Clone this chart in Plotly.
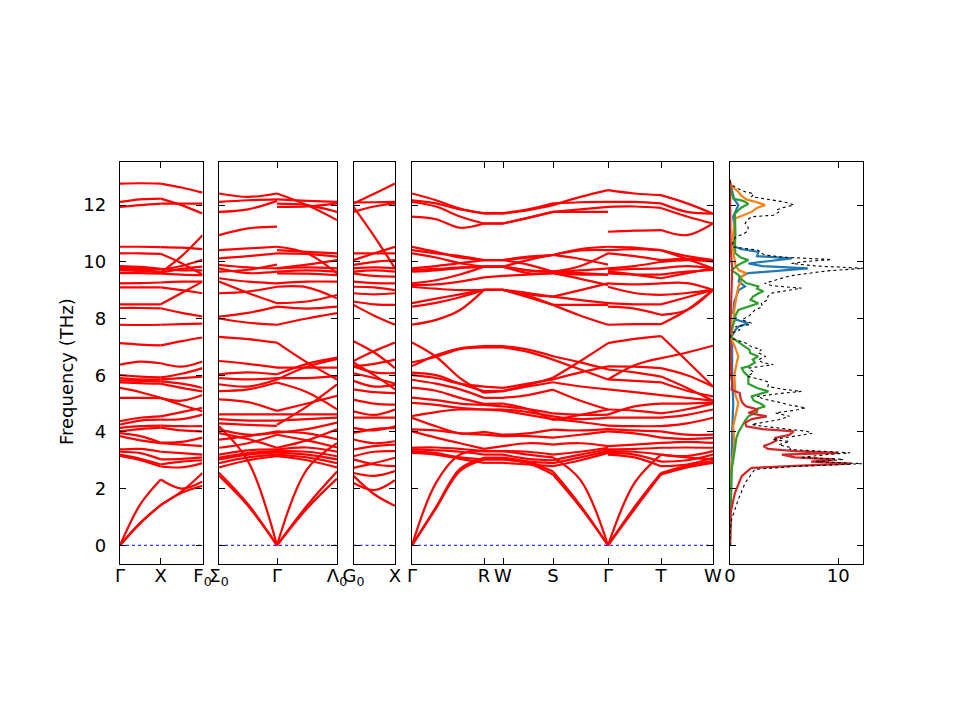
import plotly.graph_objects as go

# k-path sample positions (path length units) for each panel piece
k1 = [0.0, 0.205, 0.41, 0.62, 0.83]            # Γ - X - F0
k2a = [0.0, 0.29, 0.58]                         # Σ0 - Γ
k2b = [0.58, 0.88, 1.18]                        # Γ - Λ0
k3 = [0.0, 0.21, 0.42]                          # G0 - X
k4a = [0.0, 0.24, 0.48, 0.72, 0.91, 1.16, 1.41, 1.685, 1.96]   # Γ - R - W - S - Γ
k4b = [1.96, 2.225, 2.49, 2.75, 3.01]           # Γ - T - W

# indices of the high-symmetry points inside each k list
brk1 = [0, 2, 4]
brk2a = [0, 2]
brk2b = [0, 2]
brk3 = [0, 2]
brk4a = [0, 3, 4, 6, 8]
brk4b = [0, 2, 4]

# tick labels
ticks1 = ([0.0, 0.41, 0.83], ["Γ", "X", "F<sub>0</sub>"])
ticks2 = ([0.0, 0.58, 1.18], ["Σ<sub>0</sub>", "Γ", "Λ<sub>0</sub>"])
ticks3 = ([0.0, 0.42], ["G<sub>0</sub>", "X"])
ticks4 = ([0.0, 0.72, 0.91, 1.41, 1.96, 2.49, 3.01], ["Γ", "R", "W", "S", "Γ", "T", "W"])

# phonon frequencies (THz), one row per branch
bands_p1 = [
    [0.0, 0.78, 1.42, 1.90, 2.55],
    [0.0, 0.80, 1.42, 1.85, 2.10],
    [0.0, 1.45, 2.32, 2.00, 2.25],
    [3.15, 3.00, 2.78, 2.75, 2.90],
    [3.20, 3.05, 2.85, 2.95, 3.00],
    [3.30, 3.25, 3.03, 3.05, 3.10],
    [3.38, 3.40, 3.30, 3.25, 3.20],
    [3.85, 3.70, 3.60, 3.55, 3.50],
    [3.96, 3.85, 3.62, 3.65, 3.80],
    [4.02, 4.10, 4.15, 4.05, 4.02],
    [4.14, 4.20, 4.22, 4.20, 4.20],
    [4.26, 4.40, 4.43, 4.45, 4.61],
    [4.38, 4.50, 4.55, 4.70, 4.85],
    [5.20, 5.20, 5.19, 5.10, 5.30],
    [5.55, 5.40, 5.20, 4.95, 4.73],
    [5.75, 5.72, 5.70, 5.55, 5.43],
    [5.82, 5.80, 5.78, 5.70, 5.55],
    [5.90, 5.85, 5.85, 5.90, 5.95],
    [6.00, 5.95, 5.92, 6.05, 6.25],
    [6.37, 6.48, 6.42, 6.30, 6.48],
    [7.13, 7.08, 7.05, 7.20, 7.33],
    [7.78, 7.77, 7.78, 7.80, 7.82],
    [8.37, 8.37, 8.36, 8.20, 8.07],
    [8.50, 8.50, 8.50, 8.90, 9.30],
    [9.10, 9.10, 9.10, 9.00, 8.89],
    [9.24, 9.25, 9.27, 9.30, 9.30],
    [9.60, 9.60, 9.58, 9.55, 9.53],
    [9.70, 9.68, 9.62, 9.75, 9.83],
    [9.75, 9.75, 9.72, 9.85, 10.07],
    [9.82, 9.75, 9.62, 10.20, 10.94],
    [9.85, 9.82, 9.75, 9.70, 9.70],
    [10.30, 10.30, 10.28, 9.95, 9.55],
    [10.53, 10.53, 10.52, 10.50, 10.45],
    [11.94, 12.00, 12.05, 12.05, 12.05],
    [12.11, 12.20, 12.23, 12.00, 11.70],
    [12.76, 12.77, 12.76, 12.62, 12.44],
]

bands_p2a = [
    [2.45, 1.39, 0.0],
    [2.56, 1.45, 0.0],
    [4.20, 2.97, 0.0],
    [2.75, 3.00, 3.14],
    [2.90, 3.10, 3.20],
    [3.03, 3.20, 3.27],
    [3.09, 3.25, 3.32],
    [3.20, 3.35, 3.38],
    [3.44, 3.60, 3.90],
    [3.73, 3.85, 4.02],
    [3.96, 3.75, 3.44],
    [4.09, 3.90, 3.97],
    [4.30, 4.25, 4.21],
    [4.45, 4.40, 4.40],
    [4.62, 4.62, 4.62],
    [5.15, 5.05, 4.74],
    [5.44, 5.50, 5.74],
    [5.68, 5.60, 5.85],
    [5.90, 5.85, 5.90],
    [6.03, 6.10, 6.03],
    [6.50, 6.40, 6.27],
    [7.35, 7.27, 7.15],
    [8.00, 7.85, 7.78],
    [8.07, 8.20, 8.42],
    [8.89, 8.95, 9.12],
    [9.30, 8.90, 8.54],
    [9.42, 9.30, 9.24],
    [9.65, 9.72, 9.90],
    [9.77, 9.60, 9.65],
    [9.89, 9.80, 9.77],
    [10.12, 10.20, 10.30],
    [10.41, 10.47, 10.53],
    [10.94, 11.18, 11.24],
    [11.76, 11.85, 12.15],
    [12.11, 12.17, 12.20],
    [12.41, 12.29, 12.41],
]

bands_p2b = [
    [0.0, 1.30, 2.35],
    [0.0, 1.40, 2.60],
    [0.0, 2.68, 3.60],
    [3.14, 3.00, 2.75],
    [3.20, 3.10, 2.90],
    [3.27, 3.20, 3.03],
    [3.32, 3.30, 3.14],
    [3.38, 3.45, 3.30],
    [3.90, 3.70, 3.45],
    [4.02, 3.95, 3.74],
    [3.44, 3.70, 4.09],
    [3.97, 4.10, 4.33],
    [4.25, 4.90, 5.68],
    [4.40, 4.45, 4.50],
    [4.62, 4.62, 4.62],
    [4.74, 5.00, 5.27],
    [5.74, 5.40, 4.80],
    [5.85, 6.30, 6.57],
    [5.90, 5.90, 5.97],
    [6.03, 6.40, 6.62],
    [6.27, 6.27, 6.27],
    [7.15, 6.45, 5.85],
    [7.78, 8.00, 8.19],
    [8.42, 8.35, 8.42],
    [8.54, 8.60, 8.83],
    [9.12, 9.10, 8.71],
    [9.24, 9.30, 9.30],
    [9.59, 9.58, 9.53],
    [9.65, 9.70, 9.65],
    [9.77, 9.80, 9.77],
    [9.77, 9.90, 10.06],
    [10.30, 10.28, 10.18],
    [10.53, 10.30, 9.59],
    [10.41, 10.35, 10.30],
    [11.94, 11.95, 12.06],
    [12.05, 12.00, 11.76],
    [12.20, 12.15, 12.11],
    [12.41, 12.00, 11.47],
]

bands_p3 = [
    [2.20, 1.95, 2.30],
    [2.45, 1.80, 1.39],
    [2.55, 2.45, 2.62],
    [2.73, 2.90, 3.09],
    [3.03, 2.85, 2.79],
    [3.14, 3.30, 3.32],
    [3.38, 3.50, 3.55],
    [3.73, 3.60, 3.67],
    [3.96, 4.10, 4.14],
    [4.14, 4.05, 4.20],
    [4.50, 4.50, 4.50],
    [4.73, 4.60, 4.79],
    [5.14, 5.00, 4.96],
    [5.50, 5.40, 5.37],
    [5.80, 5.60, 5.66],
    [6.07, 5.90, 5.70],
    [6.31, 6.10, 6.07],
    [6.45, 6.00, 5.50],
    [6.31, 6.40, 6.55],
    [6.50, 6.85, 7.15],
    [7.20, 6.80, 6.25],
    [8.48, 8.10, 7.78],
    [8.60, 8.50, 8.48],
    [8.89, 8.85, 8.89],
    [9.12, 9.10, 9.00],
    [9.30, 9.25, 9.24],
    [9.59, 9.50, 9.48],
    [9.65, 9.70, 9.65],
    [9.77, 9.80, 9.77],
    [9.89, 10.00, 10.06],
    [10.06, 10.30, 10.53],
    [10.30, 10.30, 10.30],
    [11.94, 10.90, 9.77],
    [11.76, 11.95, 12.06],
    [12.10, 12.10, 12.11],
    [12.06, 12.40, 12.76],
]

bands_p4a = [
    [0.0, 1.30, 2.62, 3.03, 3.03, 2.90, 2.50, 1.34, 0.0],
    [0.0, 1.35, 2.70, 3.09, 3.09, 2.95, 2.60, 1.40, 0.0],
    [0.0, 2.20, 3.20, 3.32, 3.32, 3.20, 3.10, 2.30, 0.0],
    [3.26, 3.20, 3.05, 2.91, 2.91, 2.85, 2.79, 3.00, 3.26],
    [3.32, 3.25, 3.10, 3.03, 3.03, 2.95, 2.90, 3.10, 3.32],
    [3.38, 3.35, 3.30, 3.20, 3.20, 3.05, 3.00, 3.20, 3.38],
    [3.44, 3.45, 3.40, 3.32, 3.32, 3.30, 3.20, 3.30, 3.44],
    [4.02, 3.80, 3.60, 3.40, 3.50, 3.60, 3.55, 3.60, 3.50],
    [4.09, 4.05, 3.95, 3.90, 3.85, 3.85, 3.80, 3.90, 4.02],
    [4.50, 4.20, 3.95, 4.00, 3.90, 3.95, 4.08, 4.05, 4.10],
    [4.56, 4.70, 4.79, 4.79, 4.75, 4.60, 4.45, 4.35, 4.22],
    [5.02, 4.95, 4.85, 4.79, 4.79, 4.70, 4.55, 4.45, 4.50],
    [5.21, 5.12, 5.00, 4.95, 4.90, 4.80, 4.65, 4.60, 4.61],
    [5.56, 5.45, 5.20, 4.99, 5.00, 4.80, 4.42, 4.60, 4.79],
    [5.84, 5.70, 5.50, 5.20, 5.20, 5.30, 5.49, 5.10, 4.79],
    [6.09, 6.00, 5.70, 5.44, 5.44, 5.60, 5.75, 5.60, 5.50],
    [6.00, 5.90, 5.70, 5.60, 5.55, 5.70, 5.85, 6.10, 6.31],
    [6.32, 6.70, 6.95, 7.03, 7.03, 6.90, 6.67, 6.45, 6.20],
    [6.45, 6.65, 6.92, 6.98, 6.98, 6.82, 6.55, 6.20, 5.85],
    [7.15, 6.65, 5.90, 5.38, 5.44, 5.65, 5.91, 6.50, 7.13],
    [7.78, 7.95, 8.30, 9.01, 9.01, 8.75, 8.48, 8.10, 7.78],
    [8.42, 8.55, 8.75, 9.01, 9.01, 8.80, 8.48, 8.48, 8.48],
    [8.54, 8.70, 8.85, 9.01, 9.01, 8.90, 8.77, 9.00, 9.24],
    [9.12, 9.05, 9.00, 9.01, 9.01, 8.85, 8.77, 8.65, 8.54],
    [9.18, 9.20, 9.30, 9.45, 9.50, 9.55, 9.60, 9.40, 9.18],
    [9.24, 9.35, 9.55, 9.83, 9.83, 9.60, 9.60, 9.55, 9.55],
    [9.65, 9.70, 9.78, 9.83, 9.83, 9.70, 9.65, 9.60, 9.55],
    [9.71, 9.75, 9.80, 9.83, 9.83, 9.70, 9.65, 9.85, 10.30],
    [9.77, 9.85, 9.95, 10.06, 10.06, 9.90, 9.65, 9.70, 9.77],
    [10.30, 10.15, 9.95, 9.83, 9.83, 10.06, 10.24, 10.10, 9.90],
    [10.41, 10.30, 10.20, 10.06, 10.06, 10.15, 10.24, 10.40, 10.41],
    [10.53, 10.35, 10.15, 10.06, 10.06, 10.18, 10.24, 10.45, 10.53],
    [11.59, 11.50, 11.20, 11.35, 11.35, 11.55, 11.76, 11.76, 11.76],
    [12.11, 11.95, 11.60, 11.35, 11.35, 11.55, 11.76, 11.85, 11.94],
    [12.17, 12.06, 11.85, 11.72, 11.72, 11.85, 12.06, 12.10, 12.11],
    [12.41, 12.17, 11.88, 11.70, 11.70, 11.82, 12.00, 12.29, 12.53],
]

bands_p4b = [
    [0.0, 1.27, 2.50, 2.75, 2.91],
    [0.0, 1.35, 2.55, 2.80, 2.97],
    [0.0, 2.20, 3.20, 3.10, 3.03],
    [3.20, 3.10, 2.79, 2.85, 3.09],
    [3.26, 3.20, 2.95, 3.00, 3.20],
    [3.32, 3.30, 3.20, 3.15, 3.32],
    [3.38, 3.40, 3.44, 3.45, 3.44],
    [3.50, 3.55, 3.61, 3.65, 3.61],
    [4.02, 3.95, 3.80, 3.75, 3.79],
    [4.10, 4.05, 4.02, 3.90, 3.90],
    [4.22, 4.20, 4.20, 4.30, 4.50],
    [4.50, 4.50, 4.50, 4.60, 4.79],
    [4.79, 4.75, 4.65, 4.80, 5.00],
    [4.61, 4.90, 5.00, 5.00, 5.03],
    [5.50, 5.40, 5.30, 5.20, 5.10],
    [5.85, 5.80, 5.75, 5.45, 5.25],
    [5.85, 6.35, 6.60, 6.80, 7.04],
    [6.20, 6.10, 5.95, 5.55, 5.10],
    [6.31, 6.30, 6.25, 6.00, 5.60],
    [7.13, 7.28, 7.38, 6.50, 5.60],
    [7.78, 7.80, 7.80, 8.30, 9.01],
    [8.42, 8.35, 8.13, 8.30, 9.01],
    [8.54, 8.50, 8.50, 8.75, 9.01],
    [9.12, 8.90, 8.83, 8.90, 9.01],
    [9.24, 9.20, 9.24, 9.25, 9.01],
    [9.59, 9.55, 9.55, 9.65, 9.71],
    [9.65, 9.55, 9.42, 9.60, 9.77],
    [9.71, 9.75, 9.77, 9.85, 9.77],
    [9.77, 9.85, 10.00, 10.06, 10.01],
    [10.30, 10.20, 10.06, 10.10, 10.06],
    [10.41, 10.45, 10.41, 10.20, 10.06],
    [10.53, 10.50, 10.41, 10.10, 9.77],
    [11.06, 11.10, 11.12, 10.94, 11.35],
    [11.94, 11.95, 11.90, 11.60, 11.35],
    [12.11, 12.11, 12.06, 11.76, 11.70],
    [12.53, 12.41, 12.35, 12.06, 11.70],
]

# density of states: (frequency THz, DOS) pairs
dos_total = [
    (0.0, 0.0), (0.43, 0.0), (0.92, 0.15), (1.62, 0.77), (2.2, 1.4), (2.55, 2.0), (2.68, 2.3),
    (2.78, 6.0), (2.88, 12.2), (2.95, 8.0), (3.03, 10.5), (3.1, 6.5), (3.14, 7.3), (3.2, 9.0),
    (3.26, 11.1), (3.32, 8.5), (3.38, 5.5), (3.44, 5.7), (3.55, 4.5), (3.66, 5.5), (3.73, 3.9),
    (3.85, 6.0), (3.95, 7.6), (4.02, 7.1), (4.1, 5.0), (4.2, 3.0), (4.26, 2.0), (4.35, 3.5),
    (4.43, 4.5), (4.55, 5.5), (4.67, 4.2), (4.78, 6.3), (4.85, 7.0), (4.95, 5.5), (5.05, 4.5),
    (5.15, 3.2), (5.25, 2.5), (5.35, 4.5), (5.43, 6.6), (5.5, 5.0), (5.6, 3.5), (5.75, 3.6),
    (5.84, 2.9), (5.96, 1.6), (6.1, 2.2), (6.25, 1.7), (6.37, 4.0), (6.45, 3.0), (6.54, 2.6),
    (6.66, 3.3), (6.8, 2.6), (6.9, 2.9), (7.0, 2.0), (7.13, 1.5), (7.25, 0.5), (7.31, 0.0),
    (7.48, 0.15), (7.6, 0.9), (7.72, 0.5), (7.78, 1.8), (7.83, 2.0), (7.9, 1.5), (7.95, 1.1),
    (8.1, 1.8), (8.3, 2.3), (8.42, 3.0), (8.54, 2.9), (8.66, 3.5), (8.78, 3.5), (8.9, 3.9),
    (9.0, 5.5), (9.07, 6.6), (9.15, 4.0), (9.24, 3.2), (9.33, 4.0), (9.42, 4.8), (9.5, 5.5),
    (9.59, 7.2), (9.68, 9.0), (9.77, 12.35), (9.85, 8.0), (9.94, 5.7), (10.01, 7.0), (10.08, 9.4),
    (10.16, 5.0), (10.24, 3.2), (10.33, 2.8), (10.41, 2.6), (10.53, 0.2), (10.7, 0.3), (10.88, 0.5),
    (10.97, 1.2), (11.06, 1.55), (11.2, 1.7), (11.35, 1.4), (11.48, 1.6), (11.59, 2.0), (11.64, 4.0),
    (11.75, 4.5), (11.83, 4.3), (11.92, 5.0), (12.0, 5.9), (12.08, 5.4), (12.12, 4.8), (12.2, 3.5),
    (12.3, 2.0), (12.4, 2.2), (12.47, 1.4), (12.6, 0.6), (12.76, 0.0), (12.9, 0.0),
]
dos_blue = [
    (0.0, 0.0), (3.0, 0.1), (4.0, 0.2), (5.0, 0.3), (6.0, 0.2), (7.0, 0.2), (7.3, 0.05), (7.6, 0.5),
    (7.72, 0.8), (7.83, 1.7), (7.95, 0.6), (8.2, 0.3), (8.6, 0.4), (9.0, 0.8), (9.13, 1.39),
    (9.3, 0.8), (9.45, 0.9), (9.6, 1.7), (9.68, 4.0), (9.77, 7.2), (9.85, 3.0), (9.94, 1.7),
    (10.02, 3.5), (10.12, 5.7), (10.2, 2.5), (10.35, 2.62), (10.45, 1.0), (10.53, 0.46),
    (10.8, 0.3), (11.2, 0.4), (11.6, 0.3), (11.8, 0.5), (12.0, 0.77), (12.2, 0.4), (12.5, 0.2),
    (12.8, 0.0),
]
dos_orange = [
    (0.0, 0.0), (2.8, 0.1), (3.2, 0.3), (3.6, 0.4), (4.2, 0.3), (4.6, 0.5), (5.02, 0.77),
    (5.3, 0.5), (5.6, 0.46), (6.0, 0.4), (6.4, 0.6), (6.66, 0.77), (7.0, 0.46), (7.3, 0.1),
    (7.8, 0.3), (8.3, 0.4), (8.8, 0.6), (9.13, 0.77), (9.3, 1.0), (9.48, 1.08), (9.6, 1.5),
    (9.7, 0.8), (9.9, 0.5), (10.3, 0.3), (10.6, 0.2), (11.0, 0.3), (11.53, 0.46), (11.76, 2.0),
    (11.9, 2.5), (12.0, 3.24), (12.1, 2.5), (12.2, 1.5), (12.35, 1.0), (12.47, 0.77), (12.65, 0.2),
    (12.8, 0.0),
]
dos_green = [
    (0.0, 0.0), (2.68, 0.15), (3.0, 0.3), (3.5, 0.46), (3.8, 0.6), (4.0, 0.8), (4.2, 1.08),
    (4.4, 1.4), (4.55, 1.7), (4.7, 2.5), (4.8, 2.4), (4.9, 3.24), (5.0, 2.8), (5.1, 2.2),
    (5.25, 2.0), (5.35, 2.9), (5.43, 3.55), (5.55, 2.5), (5.7, 1.7), (5.84, 1.7), (5.96, 1.7),
    (6.1, 1.3), (6.25, 1.08), (6.31, 1.7), (6.45, 2.3), (6.55, 2.1), (6.66, 2.6), (6.78, 1.85),
    (6.9, 1.8), (7.0, 1.4), (7.13, 0.9), (7.25, 0.46), (7.35, 0.1), (7.5, 0.05), (7.7, 0.2),
    (7.95, 0.46), (8.1, 0.5), (8.3, 0.77), (8.42, 1.7), (8.54, 2.62), (8.66, 1.9), (8.78, 2.16),
    (8.9, 2.7), (8.96, 3.09), (9.05, 2.5), (9.13, 2.62), (9.25, 1.5), (9.4, 1.0), (9.54, 0.77),
    (9.7, 0.15), (9.85, 0.6), (9.94, 1.0), (10.06, 1.7), (10.15, 1.0), (10.3, 0.5), (10.53, 0.46),
    (11.0, 0.5), (11.24, 0.5), (11.7, 0.46), (11.9, 1.0), (12.05, 1.7), (12.15, 1.2), (12.23, 0.3),
    (12.5, 0.1), (12.8, 0.0),
]
dos_red = [
    (0.0, 0.0), (1.15, 0.05), (1.85, 0.46), (2.44, 1.08), (2.68, 1.8), (2.73, 2.0), (2.8, 6.0),
    (2.88, 11.2), (2.95, 7.5), (3.03, 9.7), (3.1, 6.0), (3.2, 4.8), (3.26, 10.0), (3.32, 6.0),
    (3.4, 3.5), (3.5, 3.1), (3.6, 3.8), (3.7, 4.3), (3.79, 4.2), (3.9, 5.5), (4.02, 5.9),
    (4.1, 3.0), (4.2, 1.5), (4.32, 1.4), (4.45, 2.0), (4.55, 3.4), (4.67, 1.7), (4.79, 2.6),
    (4.9, 1.5), (5.0, 1.2), (5.15, 1.0), (5.37, 0.9), (5.49, 0.15), (5.7, 0.2), (6.0, 0.1),
    (6.5, 0.05), (7.3, 0.0), (7.8, 0.05), (9.0, 0.1), (9.77, 0.2), (10.5, 0.05), (12.0, 0.05),
    (12.9, 0.0),
]

FONT = dict(family="DejaVu Sans", size=18, color="black")
Y_RANGE = [-0.66, 13.52]
OFF = 8  # page body offset of the rendered figure, in px
Y_DOMAIN = [1 - (564 - OFF) / 720, 1 - (162 - OFF) / 720]


def band_trace(k, bands, breaks, axis):
    xs, ys = [], []
    for b in bands:
        for i0, i1 in zip(breaks[:-1], breaks[1:]):
            xs += k[i0:i1 + 1] + [None]
            ys += b[i0:i1 + 1] + [None]
    return go.Scatter(x=xs, y=ys, mode="lines",
                      line=dict(color="#ff0000", width=2.2, shape="spline", smoothing=1.0),
                      xaxis="x" + axis, yaxis="y" + axis, hoverinfo="skip")


def zero_trace(k0, k1_, axis):
    return go.Scatter(x=[k0, k1_], y=[0, 0], mode="lines",
                      line=dict(color="#0000ff", width=1, dash="dot"),
                      xaxis="x" + axis, yaxis="y" + axis, hoverinfo="skip")


fig = go.Figure()
fig.add_trace(band_trace(k1, bands_p1, brk1, ""))
fig.add_trace(band_trace(k2a, bands_p2a, brk2a, "2"))
fig.add_trace(band_trace(k2b, bands_p2b, brk2b, "2"))
fig.add_trace(band_trace(k3, bands_p3, brk3, "3"))
fig.add_trace(band_trace(k4a, bands_p4a, brk4a, "4"))
fig.add_trace(band_trace(k4b, bands_p4b, brk4b, "4"))
fig.add_trace(zero_trace(k1[0], k1[-1], ""))
fig.add_trace(zero_trace(k2a[0], k2b[-1], "2"))
fig.add_trace(zero_trace(k3[0], k3[-1], "3"))
fig.add_trace(zero_trace(k4a[0], k4b[-1], "4"))

for pairs, color in [(dos_blue, "#1f77b4"), (dos_orange, "#ff7f0e"),
                     (dos_green, "#2ca02c"), (dos_red, "#d62728")]:
    f, d = zip(*pairs)
    fig.add_trace(go.Scatter(x=list(d), y=list(f), mode="lines",
                             line=dict(color=color, width=2.2),
                             xaxis="x5", yaxis="y5", hoverinfo="skip"))
f, d = zip(*dos_total)
fig.add_trace(go.Scatter(x=list(d), y=list(f), mode="lines",
                         line=dict(color="black", width=1.1, dash="dot"),
                         xaxis="x5", yaxis="y5", hoverinfo="skip"))

axis_common = dict(showline=True, linecolor="black", linewidth=1.4, mirror="ticks",
                   ticks="inside", ticklen=6, tickwidth=1.4, tickcolor="black",
                   showgrid=False, zeroline=False, tickfont=FONT, automargin=False)

x_domains = [(120, 202.5), (219, 337), (353.5, 395), (412, 713), (730, 863)]
x_ranges = [[k1[0], k1[-1]], [k2a[0], k2b[-1]], [k3[0], k3[-1]], [k4a[0], k4b[-1]], [0, 12.3]]
x_ticks = [ticks1, ticks2, ticks3, ticks4, ([0, 10], ["0", "10"])]

layout = dict(width=960, height=720, autosize=False,
              margin=dict(l=0, r=0, t=0, b=0, pad=0, autoexpand=False),
              paper_bgcolor="white", plot_bgcolor="white", showlegend=False)
for i in range(5):
    sfx = "" if i == 0 else str(i + 1)
    anchor = "y" + sfx
    layout["xaxis" + sfx] = dict(axis_common,
                                 domain=[(x_domains[i][0] - OFF) / 960, (x_domains[i][1] - OFF) / 960],
                                 range=x_ranges[i], tickvals=x_ticks[i][0], ticktext=x_ticks[i][1],
                                 anchor=anchor, ticklabelstandoff=-5)
    layout["yaxis" + sfx] = dict(axis_common, domain=Y_DOMAIN, range=Y_RANGE,
                                 tickvals=[0, 2, 4, 6, 8, 10, 12], showticklabels=(i == 0),
                                 anchor="x" + sfx, ticklabelstandoff=9)
fig.update_layout(**layout)

fig.add_annotation(text="Frequency (THz)", x=(66 - OFF) / 960, y=1 - (372 - OFF) / 720,
                   xref="paper", yref="paper", textangle=-90, showarrow=False, font=FONT,
                   xanchor="center", yanchor="middle")

fig.write_html("out.html")
